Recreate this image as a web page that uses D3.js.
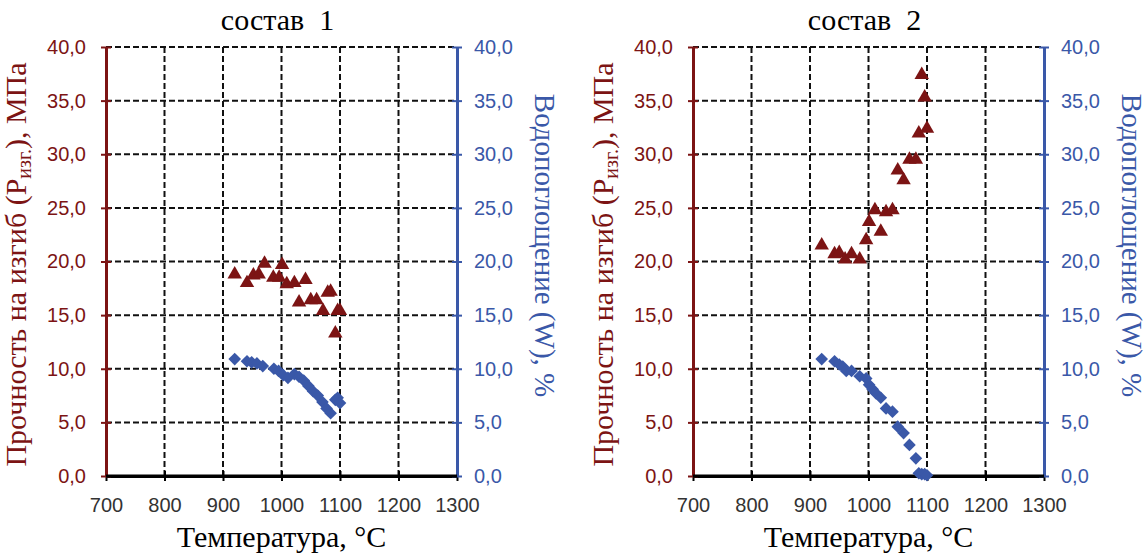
<!DOCTYPE html>
<html>
<head>
<meta charset="utf-8">
<script src="https://cdn.jsdelivr.net/npm/d3@7"></script>
<style>
  body { margin: 0; background: #fff; }
  svg { display: block; }
</style>
</head>
<body>
<div id="chart"></div>
<script>
// состав 1
var temp1Str = [920, 941, 952, 961, 971, 986, 996, 1001, 1009, 1022, 1030, 1041, 1050, 1060, 1071, 1079, 1084, 1092, 1096, 1100];
var strength1 = [18.8, 18.0, 18.7, 18.8, 19.8, 18.5, 18.5, 19.7, 17.9, 18.0, 16.2, 18.3, 16.4, 16.4, 15.4, 17.1, 17.2, 13.3, 15.4, 15.4];
var temp1W = [920, 941, 949, 958, 968, 987, 995, 1003, 1011, 1022, 1030, 1038, 1046, 1054, 1062, 1070, 1077, 1084, 1092, 1096, 1100];
var water1 = [10.9, 10.7, 10.6, 10.5, 10.25, 10.0, 9.8, 9.4, 9.15, 9.5, 9.25, 8.9, 8.4, 7.9, 7.5, 6.9, 6.3, 5.85, 7.1, 7.3, 6.8];

// состав 2
var temp2Str = [920, 942, 950, 960, 971, 985, 996, 1001, 1011, 1021, 1030, 1041, 1050, 1060, 1070, 1081, 1086, 1091, 1096, 1100];
var strength2 = [21.5, 20.7, 20.8, 20.2, 20.7, 20.2, 22.0, 23.7, 24.8, 22.8, 24.6, 24.8, 28.5, 27.6, 29.5, 29.5, 31.95, 37.4, 35.3, 32.4];
var temp2W = [920, 942, 950, 956, 962, 971, 985, 996, 1001, 1007, 1013, 1021, 1030, 1041, 1050, 1060, 1070, 1081, 1086, 1091, 1096, 1100];
var water2 = [10.9, 10.7, 10.4, 10.2, 9.8, 9.8, 9.3, 9.1, 8.5, 8.1, 7.7, 7.3, 6.3, 6.0, 4.6, 4.0, 2.9, 1.65, 0.26, 0.17, 0.17, 0.07];

var xTicks = [700, 800, 900, 1000, 1100, 1200, 1300];
var yTicks = [0, 5, 10, 15, 20, 25, 30, 35, 40];
var titles = ["состав\u00a0\u00a01", "состав\u00a0\u00a02"];

var W = 1147, H = 554;
var RED = "#7c1414", BLUE = "#3a58a8";
var pw = 351, ph = 429;

var svg = d3.select("#chart").append("svg").attr("width", W).attr("height", H);

var fmt = function (d) { return d3.format(".1f")(d).replace(".", ","); };
var sans = "20px 'Liberation Sans', Arial, sans-serif";
var serif = "'Liberation Serif', 'Times New Roman', serif";

function drawChart(left, top, title, tS, vS, tW, vW) {
  var g = svg.append("g").attr("transform", "translate(" + left + "," + top + ")");
  var x = d3.scaleLinear().domain([700, 1300]).range([0, pw]);
  var y = d3.scaleLinear().domain([0, 40]).range([ph, 0]);

  // grid
  g.append("g").selectAll("line").data(yTicks.filter(function (d) { return d > 0; })).join("line")
    .attr("x1", 0).attr("x2", pw).attr("y1", y).attr("y2", y)
    .attr("stroke", "#111").attr("stroke-width", 2).attr("stroke-dasharray", "6,3");
  g.append("g").selectAll("line").data(xTicks.slice(1, -1)).join("line")
    .attr("x1", x).attr("x2", x).attr("y1", 0).attr("y2", ph)
    .attr("stroke", "#111").attr("stroke-width", 2).attr("stroke-dasharray", "6,3");

  // bottom axis
  var ax = g.append("g").attr("transform", "translate(0," + ph + ")")
    .call(d3.axisBottom(x).tickValues(xTicks).tickFormat(d3.format("d")).tickSize(5).tickSizeOuter(0).tickPadding(17));
  ax.select(".domain").attr("stroke", "#000").attr("stroke-width", 3);
  ax.selectAll(".tick line").attr("y1", -5).attr("stroke", "#000").attr("stroke-width", 2);
  ax.selectAll("text").attr("fill", "#333").style("font", sans);

  // left axis
  var al = g.append("g")
    .call(d3.axisLeft(y).tickValues(yTicks).tickFormat(fmt).tickSize(5).tickSizeOuter(0).tickPadding(15));
  al.select(".domain").attr("stroke", RED).attr("stroke-width", 3);
  al.selectAll(".tick line").attr("x1", 5).attr("stroke", RED).attr("stroke-width", 2);
  al.selectAll("text").attr("fill", RED).style("font", sans);

  // right axis
  var ar = g.append("g").attr("transform", "translate(" + pw + ",0)")
    .call(d3.axisRight(y).tickValues(yTicks).tickFormat(fmt).tickSize(5).tickSizeOuter(0).tickPadding(12));
  ar.select(".domain").attr("stroke", BLUE).attr("stroke-width", 3);
  ar.selectAll(".tick line").attr("x1", -5).attr("stroke", BLUE).attr("stroke-width", 2);
  ar.selectAll("text").attr("fill", BLUE).style("font", sans);

  // bottom line over the axis stubs
  g.append("line").attr("x1", 0).attr("x2", pw).attr("y1", ph).attr("y2", ph)
    .attr("stroke", "#000").attr("stroke-width", 3);

  // water absorption: diamonds
  var diamond = d3.symbol().type(d3.symbolSquare).size(80);
  g.append("g").selectAll("path").data(d3.zip(tW, vW)).join("path")
    .attr("d", diamond)
    .attr("transform", function (d) { return "translate(" + x(d[0]) + "," + y(d[1]) + ") rotate(45)"; })
    .attr("fill", BLUE);

  // strength: triangles
  var tri = d3.symbol().type(d3.symbolTriangle).size(90);
  g.append("g").selectAll("path").data(d3.zip(tS, vS)).join("path")
    .attr("d", tri)
    .attr("transform", function (d) { return "translate(" + x(d[0]) + "," + y(d[1]) + ")"; })
    .attr("fill", RED);

  // titles
  g.append("text").attr("x", pw / 2 - 4).attr("y", -17).attr("text-anchor", "middle")
    .style("font-family", serif).style("font-size", "30px").attr("fill", "#000").text(title);

  g.append("text").attr("x", pw / 2).attr("y", ph + 71).attr("text-anchor", "middle")
    .style("font-family", serif).style("font-size", "30px").attr("fill", "#000").text("Температура, °C");

  var yl = g.append("text").attr("transform", "translate(-80," + (ph / 2 + 3) + ") rotate(-90)")
    .attr("text-anchor", "middle").style("font-family", serif).style("font-size", "30px").attr("fill", RED);
  yl.append("tspan").text("Прочность на изгиб (Р");
  yl.append("tspan").attr("font-size", "20px").attr("dy", 5).text("изг.");
  yl.append("tspan").attr("dy", -5).text("), МПа");

  g.append("text").attr("transform", "translate(" + (pw + 78) + "," + (ph / 2 - 16) + ") rotate(90)")
    .attr("text-anchor", "middle").style("font-family", serif).style("font-size", "29px").attr("fill", BLUE)
    .text("Водопоглощение (W), %");
}

drawChart(106, 47, titles[0], temp1Str, strength1, temp1W, water1);
drawChart(693, 47, titles[1], temp2Str, strength2, temp2W, water2);
</script>
</body>
</html>
